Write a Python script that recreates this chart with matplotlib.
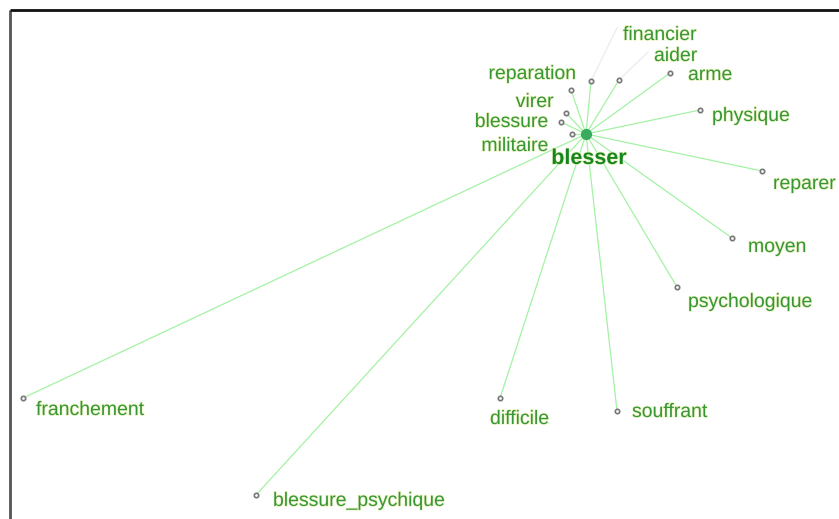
import matplotlib
matplotlib.use("Agg")
import matplotlib.pyplot as plt
import matplotlib.patheffects as pe

# ---- data ----
center = "blesser"
center_pos = (586, 134)
words = ["financier", "aider", "arme", "reparation", "virer", "blessure", "militaire",
         "physique", "reparer", "moyen", "psychologique", "souffrant", "difficile",
         "franchement", "blessure_psychique"]
node_x = [591, 619, 670, 571, 566, 561, 572, 700, 762, 732, 677, 617, 500, 23, 256]
node_y = [81, 80, 73, 90, 113, 122, 134, 110, 171, 238, 287, 411, 398, 398, 495]

# ---- label placement (style) ----
label_pos = {
    "financier": (623, 34, "left"),
    "aider": (654, 55, "left"),
    "arme": (688, 74, "left"),
    "reparation": (577, 73, "right"),
    "virer": (554, 101, "right"),
    "blessure": (549, 121, "right"),
    "militaire": (549, 145, "right"),
    "physique": (712, 115, "left"),
    "reparer": (773, 183, "left"),
    "moyen": (748, 246, "left"),
    "psychologique": (688, 301, "left"),
    "souffrant": (632, 411, "left"),
    "difficile": (490, 418, "left"),
    "franchement": (36, 409, "left"),
    "blessure_psychique": (273, 500, "left"),
}
label_dy = 1.5
leaders = {"financier": (617, 28), "aider": (648, 52)}

W, H = 839, 519
fig = plt.figure(figsize=(W / 100, H / 100), dpi=100)
ax = fig.add_axes([0, 0, 1, 1])
ax.set_xlim(0, W)
ax.set_ylim(H, 0)
ax.axis("off")

# frame
ax.plot([9.5, 9.5], [H + 5, 9.5], color="#555555", lw=2, solid_capstyle="butt")
ax.plot([9.5, W + 5], [9.5, 9.5], color="#111111", lw=2, solid_capstyle="butt")

cx, cy = center_pos
for w, x, y in zip(words, node_x, node_y):
    ax.plot([cx, x], [cy, y], color="#a4f2a4", lw=0.9, zorder=1)
    if w in leaders:
        lx, ly = leaders[w]
        ax.plot([x, lx], [y, ly], color="#ececec", lw=0.9, zorder=1)

ax.scatter(node_x, node_y, s=10, facecolor="white", edgecolor="#777777", linewidths=1.2, zorder=3)
ax.scatter([cx], [cy], s=50, color="#3aaa5e", zorder=4)

halo = [pe.withStroke(linewidth=1.2, foreground="#eef5c8")]
for w in words:
    tx, ty, ha = label_pos[w]
    ax.text(tx, ty + label_dy, w, ha=ha, va="center", fontsize=14, color="#379637",
            family="Liberation Sans", path_effects=halo, zorder=5)

ax.text(589, 157 + label_dy, center, ha="center", va="center", fontsize=15.5, fontweight="bold",
        color="#18861f", family="Liberation Sans", path_effects=halo, zorder=5)

fig.savefig("out.png", dpi=100)
